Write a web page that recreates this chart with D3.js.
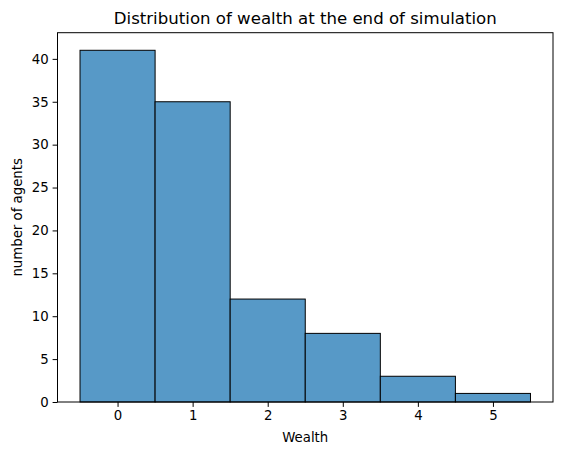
<!doctype html>
<html>
<head>
<style>
  body { margin: 0; background: #fff; }
  text { font-family: "DejaVu Sans", sans-serif; fill: #000; }
</style>
<script src="https://cdnjs.cloudflare.com/ajax/libs/d3/7.8.5/d3.min.js"></script>
</head>
<body>
<script>
const wealth = [0, 1, 2, 3, 4, 5];
const agents = [41, 35, 12, 8, 3, 1];
const yTicks = [0, 5, 10, 15, 20, 25, 30, 35, 40];

const width = 562, height = 455;
const plotLeft = 57.5, plotRight = 553, plotTop = 32.7, plotBottom = 402;

const svg = d3.select('body').append('svg')
    .attr('width', width)
    .attr('height', height);

const x = d3.scaleLinear().domain([-0.8, 5.8]).range([plotLeft, plotRight]);
const y = d3.scaleLinear().domain([0, 41 * 1.05]).range([plotBottom, plotTop]);

// bars
svg.append('g')
    .selectAll('rect')
    .data(wealth)
    .enter()
    .append('rect')
    .attr('x', d => x(d - 0.5))
    .attr('y', (d, i) => y(agents[i]))
    .attr('width', d => x(d + 0.5) - x(d - 0.5))
    .attr('height', (d, i) => y(0) - y(agents[i]))
    .attr('fill', '#5799c7')
    .attr('stroke', '#000')
    .attr('stroke-width', 1);

// x axis
const xAxis = svg.append('g')
    .attr('transform', 'translate(0,' + plotBottom + ')')
    .call(d3.axisBottom(x).tickValues(wealth).tickSize(4.9).tickPadding(4).tickFormat(d3.format('d')));
xAxis.select('.domain').remove();
xAxis.selectAll('text').style('font-size', '13.3px').style('font-family', '"DejaVu Sans", sans-serif');

// y axis
const yAxis = svg.append('g')
    .attr('transform', 'translate(' + plotLeft + ',0)')
    .call(d3.axisLeft(y).tickValues(yTicks).tickSize(4.9).tickPadding(4));
yAxis.select('.domain').remove();
yAxis.selectAll('text').style('font-size', '13.3px').style('font-family', '"DejaVu Sans", sans-serif');

// frame
svg.append('rect')
    .attr('x', plotLeft)
    .attr('y', plotTop)
    .attr('width', plotRight - plotLeft)
    .attr('height', plotBottom - plotTop)
    .attr('fill', 'none')
    .attr('stroke', '#000')
    .attr('stroke-width', 1);

// labels
svg.append('text')
    .attr('x', (plotLeft + plotRight) / 2)
    .attr('y', 24)
    .attr('text-anchor', 'middle')
    .style('font-size', '16.6px')
    .text('Distribution of wealth at the end of simulation');

svg.append('text')
    .attr('x', (plotLeft + plotRight) / 2)
    .attr('y', 442)
    .attr('text-anchor', 'middle')
    .style('font-size', '13.3px')
    .text('Wealth');

svg.append('text')
    .attr('transform', 'translate(21.5,' + ((plotTop + plotBottom) / 2) + ') rotate(-90)')
    .attr('text-anchor', 'middle')
    .style('font-size', '13.3px')
    .text('number of agents');
</script>
</body>
</html>
